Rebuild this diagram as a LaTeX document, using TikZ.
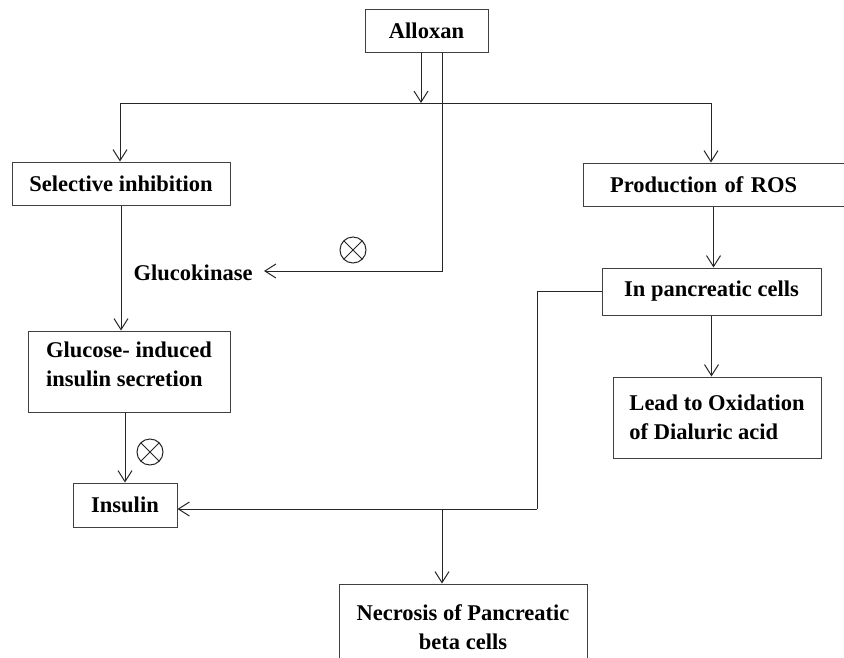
\documentclass[tikz,border=0pt]{standalone}
\usepackage{fontspec}
\setmainfont{Liberation Serif}
\usepackage{xcolor}
\usepackage{tikz}
\usetikzlibrary{arrows.meta}

\newcommand{\boxfont}{\fontsize{22.5}{28.5}\selectfont\bfseries}

\begin{document}
\begin{tikzpicture}[x=1pt, y=-1pt, line width=1pt,
        box/.style={draw=black!75, font=\boxfont, inner sep=0pt, align=center},
        arr/.style={draw=black!85, -{Straight Barb[length=11pt, width=14pt]}},
        link/.style={draw=black!85},
        inh/.style={circle, draw=black!85, minimum size=26pt, inner sep=0pt,
            path picture={
                \draw[black!85] (path picture bounding box.north west) -- (path picture bounding box.south east);
                \draw[black!85] (path picture bounding box.north east) -- (path picture bounding box.south west);
            }}]
        \useasboundingbox (0,0) rectangle (844,657);
        \clip (0,0) rectangle (844,657);

        % Kästen
        \node[box, minimum width=123pt, minimum height=43pt] (alloxan) at (426.5,30.5) {Alloxan};
        \node[box, minimum width=218pt, minimum height=43pt] (selinh) at (121,183.5) {Selective inhibition};
        \node[box, minimum height=43pt, text width=207pt, inner xsep=27pt, align=left] (ros) at (713.5,184.5) {Production of ROS};
        \node[box, minimum width=219pt, minimum height=47pt] (pancells) at (711.5,291.5) {In pancreatic cells};
        \node[box, minimum width=208pt, minimum height=81pt, align=left] (lead) at (717,417.5) {Lead to Oxidation\\of Dialuric acid};
        \node[box, minimum width=202pt, minimum height=81pt, align=left] (glucose) at (129,371.5) {Glucose- induced\\insulin secretion\\[-14pt]};
        \node[box, minimum width=104pt, minimum height=44pt] (insulin) at (125,505) {Insulin};
        \node[box, minimum width=248pt, minimum height=86pt] (necrosis) at (463,627) {Necrosis of Pancreatic\\beta cells};
        \node[font=\boxfont, inner ysep=0pt, inner xsep=11pt, anchor=base east] (gluco) at (264,280) {Glucokinase};

        % Hemmung
        \node[inh] (inh1) at (353,250) {};
        \node[inh] (inh2) at (150,452) {};

        % Hilfspunkte
        \coordinate (split) at (421,103);
        \coordinate (busL) at (120,103);
        \coordinate (busR) at (711,103);
        \coordinate (gk) at (442,271);
        \coordinate (jn) at (537,509);
        \coordinate (nk) at (442,509);

        % Verbindungen
        \draw[arr] (alloxan.south -| split) -- (split);
        \draw[link] (busL) -- (busR);
        \draw[arr] (busL) -- (busL |- selinh.north);
        \draw[arr] (busR) -- (busR |- ros.north);
        \draw[arr] (alloxan.south -| gk) -- (gk) -- (gk -| gluco.east);
        \draw[arr] (selinh.south) -- (selinh.south |- glucose.north);
        \draw[arr] (insulin.north |- glucose.south) -- (insulin.north);
        \draw[arr] (ros.south) -- (ros.south |- pancells.north);
        \draw[arr] (pancells.south) -- (pancells.south |- lead.north);
        \draw[link] (pancells.west) -| (jn);
        \draw[arr] (jn) -- (jn -| insulin.east);
        \draw[arr] (nk) -- (nk |- necrosis.north);
\end{tikzpicture}
\end{document}
